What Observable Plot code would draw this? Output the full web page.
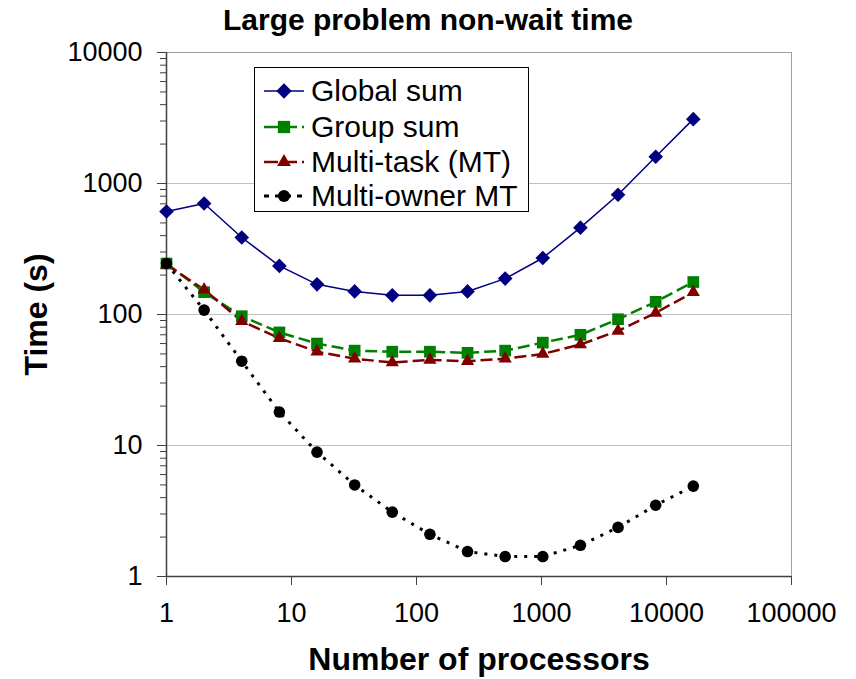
<!DOCTYPE html>
<html>
<head>
<meta charset="utf-8">
<script src="https://cdn.jsdelivr.net/npm/d3@7"></script>
<script src="https://cdn.jsdelivr.net/npm/@observablehq/plot@0.6"></script>
<style>
  html, body { margin: 0; padding: 0; background: #fff; }
  #wrap { position: relative; width: 856px; height: 679px; font-family: "Liberation Sans", Arial, sans-serif; }
  #wrap svg.plot { position: absolute; left: 0; top: 0; }
  #title { position: absolute; left: 0; width: 856px; top: 2px; text-align: center; font-weight: bold; font-size: 30px; line-height: 36px; color: #000; }
  #legend { position: absolute; left: 254px; top: 67px; width: 273px; height: 143px; border: 1px solid #000; background: #fff; box-sizing: content-box; }
  .row { position: absolute; left: 0; height: 35px; display: flex; align-items: center; font-size: 30px; color: #000; }
  .row svg { margin-left: 8px; margin-right: 6px; }
</style>
</head>
<body>
<div id="wrap">
  <div id="title">Large problem non-wait time</div>
</div>
<script>
const procs = [1, 2, 4, 8, 16, 32, 64, 128, 256, 512, 1024, 2048, 4096, 8192, 16384];
const globalSum = [611, 703, 387, 235, 170, 150, 140, 140, 150, 188, 270, 460, 820, 1600, 3100];
const groupSum = [245, 148, 97, 73, 60, 53, 52, 52, 51, 53, 61, 70, 92, 125, 177];
const multiTask = [240, 155, 89, 66, 52, 46, 43, 45, 44, 46, 50, 59, 75, 103, 148];
const multiOwner = [245, 108, 44, 18, 8.9, 5.0, 3.1, 2.1, 1.55, 1.42, 1.42, 1.73, 2.37, 3.5, 4.9];
const seriesNames = ["Global sum", "Group sum", "Multi-task (MT)", "Multi-owner MT"];
const xTicks = [1, 10, 100, 1000, 10000, 100000];
const yTicks = [1, 10, 100, 1000, 10000];

const styles = [
  {color: "#000080", dash: null, width: 1.5, symbol: "diamond2", r: 6.6},
  {color: "#008000", dash: "12,5", width: 2.5, symbol: "square", r: 6.6},
  {color: "#800000", dash: "12,5", width: 2.5, symbol: "triangle", r: 4.9},
  {color: "#000000", dash: "3,7", width: 3, symbol: "circle", r: 5.8}
];
const values = [globalSum, groupSum, multiTask, multiOwner];
const tables = values.map(v => procs.map((p, i) => ({x: p, y: v[i]})));

const minor = [];
for (let k = 0; k < 4; k++) for (let m = 2; m <= 9; m++) minor.push(m * 10 ** k);

const marks = [
  Plot.gridY([10, 100, 1000], {stroke: "#c0c0c0", strokeOpacity: 1, strokeWidth: 1}),
  Plot.ruleY([10000], {stroke: "#a0a0a0"}),
  Plot.ruleX([100000], {stroke: "#a0a0a0"}),
  Plot.axisY({ticks: minor, tickSize: 6, tickFormat: () => "", stroke: "#404040", label: null}),
  Plot.axisY({ticks: yTicks, tickSize: 9, tickPadding: 15, tickFormat: d => String(d), fontSize: 27, fill: "#000", stroke: "#404040",
    label: "Time (s)", labelAnchor: "center", labelOffset: 142, labelArrow: "none"}),
  Plot.axisX({ticks: xTicks, tickSize: 9, tickPadding: 17, tickFormat: d => String(d), fontSize: 27, fill: "#000", stroke: "#404040",
    label: "Number of processors", labelAnchor: "center", labelOffset: 93, labelArrow: "none"}),
  Plot.ruleX([1], {stroke: "#404040", strokeWidth: 1.5}),
  Plot.ruleY([1], {stroke: "#404040", strokeWidth: 1.5})
];
tables.forEach((t, i) => {
  const s = styles[i];
  marks.push(Plot.line(t, {x: "x", y: "y", stroke: s.color, strokeWidth: s.width, strokeDasharray: s.dash, strokeLinecap: "butt"}));
});
tables.forEach((t, i) => {
  const s = styles[i];
  marks.push(Plot.dot(t, {x: "x", y: "y", symbol: s.symbol, r: s.r, fill: s.color, stroke: "none"}));
});

const chart = Plot.plot({
  width: 856,
  height: 679,
  marginLeft: 166,
  marginRight: 65,
  marginTop: 52,
  marginBottom: 103,
  style: {fontFamily: "'Liberation Sans', Arial, sans-serif", background: "#fff", overflow: "visible"},
  x: {type: "log", domain: [1, 100000]},
  y: {type: "log", domain: [1, 10000]},
  marks
});
chart.classList.add("plot");
chart.querySelectorAll("g[aria-label='y-axis label'] text, g[aria-label='x-axis label'] text").forEach(t => {
  t.setAttribute("font-weight", "bold");
  t.setAttribute("font-size", "32");
});
const wrap = document.getElementById("wrap");
wrap.insertBefore(chart, wrap.firstChild);

// legend
const legend = document.createElement("div");
legend.id = "legend";
const rowTops = [5, 41, 76, 110];
seriesNames.forEach((name, i) => {
  const s = styles[i];
  const row = document.createElement("div");
  row.className = "row";
  row.style.top = rowTops[i] + "px";
  const sw = d3.create("svg").attr("width", 42).attr("height", 20);
  sw.append("line").attr("x1", 1).attr("x2", 41).attr("y1", 10).attr("y2", 10)
    .attr("stroke", s.color).attr("stroke-width", s.width)
    .attr("stroke-dasharray", s.dash ? (i === 3 ? "5,6" : "14,5") : null);
  const sym = {diamond2: d3.symbolDiamond2, square: d3.symbolSquare, triangle: d3.symbolTriangle, circle: d3.symbolCircle}[s.symbol];
  sw.append("path").attr("transform", "translate(21,10)")
    .attr("d", d3.symbol(sym, Math.PI * s.r * s.r * 1.1)()).attr("fill", s.color);
  row.appendChild(sw.node());
  const label = document.createElement("span");
  label.textContent = name;
  row.appendChild(label);
  legend.appendChild(row);
});
wrap.appendChild(legend);
</script>
</body>
</html>
